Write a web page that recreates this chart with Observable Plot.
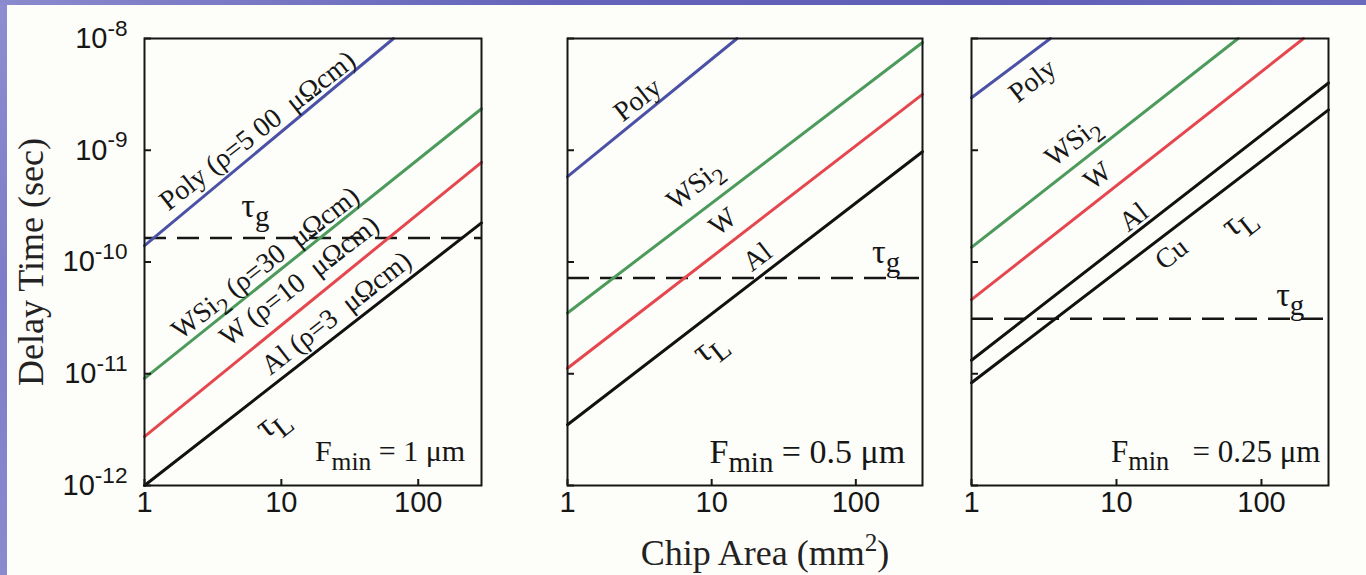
<!DOCTYPE html>
<html>
<head>
<meta charset="utf-8">
<script src="https://cdn.jsdelivr.net/npm/d3@7"></script>
<script src="https://cdn.jsdelivr.net/npm/@observablehq/plot@0.6"></script>
<style>
  html, body { margin: 0; padding: 0; background: #fdfdf9; }
  #page { position: relative; width: 1366px; height: 575px; overflow: hidden; background: #fdfdf9; }
  #edgeL { position: absolute; left: 0; top: 0; width: 7px; height: 575px; background: linear-gradient(180deg, #8d8dd2, #7c7cc8 50%, #8a8ad0); }
  #edgeT { position: absolute; left: 0; top: 0; width: 1366px; height: 5px; background: linear-gradient(90deg, #8a8ace, #6464ba 40%, #5f5fb6 70%, #6a6abe); }
  .panel { position: absolute; top: 0; }
  .title { position: absolute; font-family: 'Liberation Serif', 'Times New Roman', serif; font-size: 36px; color: #222; line-height: 1; white-space: nowrap; }
  .title sup { font-size: 70%; vertical-align: 0.55em; line-height: 0; }
</style>
</head>
<body>
<div id="page">
  <div id="edgeL"></div>
  <div id="edgeT"></div>
  <div id="p1" class="panel" style="left:0px"></div>
  <div id="p2" class="panel" style="left:500px"></div>
  <div id="p3" class="panel" style="left:940px"></div>
  <div class="title" style="left:31px; top:262px; transform: translate(-50%, -50%) rotate(-90deg);">Delay Time (sec)</div>
  <div class="title" style="left:765px; top:535px; transform: translateX(-50%);">Chip Area (mm<sup>2</sup>)</div>
</div>
<script>
// ---- axes ----
const areaDomain = [1, 290];
const delayDomain = [1e-12, 1e-8];
const areaTicks = [1, 10, 100];
const delayTicks = [1e-12, 1e-11, 1e-10, 1e-9, 1e-8];

// ---- materials ----
const materials = ["Poly", "WSi2", "W", "Al", "Cu"];
const materialColors = ["#4b52a6", "#4c9a5c", "#e5474f", "#111111", "#111111"];

// ---- interconnect delay τL: [material, chip area (mm²), delay (s)] ----
const delay1um = [
  ["Poly", 1, 1.4e-10], ["Poly", 66, 1e-8],
  ["WSi2", 1, 9.1e-12], ["WSi2", 290, 2.35e-9],
  ["W", 1, 2.74e-12], ["W", 290, 7.8e-10],
  ["Al", 1, 1.0e-12], ["Al", 290, 2.24e-10]
];
const delay05um = [
  ["Poly", 1, 5.8e-10], ["Poly", 15, 1e-8],
  ["WSi2", 1, 3.5e-11], ["WSi2", 290, 9.2e-9],
  ["W", 1, 1.12e-11], ["W", 290, 3.16e-9],
  ["Al", 1, 3.5e-12], ["Al", 290, 9.7e-10]
];
const delay025um = [
  ["Poly", 1, 2.95e-9], ["Poly", 3.5, 1e-8],
  ["WSi2", 1, 1.35e-10], ["WSi2", 69, 1e-8],
  ["W", 1, 4.6e-11], ["W", 195, 1e-8],
  ["Al", 1, 1.32e-11], ["Al", 290, 4.0e-9],
  ["Cu", 1, 8.3e-12], ["Cu", 290, 2.3e-9]
];

// ---- gate delay τg per feature size (s) ----
const gateDelay = [1.64e-10, 7.2e-11, 3.1e-11];

// ---- panel notes ----
const featureNotes = ["F_{min} = 1 μm", "F_{min} = 0.5 μm", "F_{min}\u00a0\u00a0\u00a0= 0.25 μm"];
const noteAnchors = [[220, 2.0e-12], [220, 2.0e-12], [255, 2.0e-12]];

// ---- in-plot labels: [text, area, delay, rotate] ----
const labels1um = [
  ["Poly (ρ=5 00  μΩcm)", 6.68, 1.5e-9, -38],
  ["WSi_{2} (ρ=30  μΩcm)", 7.64, 9.8e-11, -38],
  ["W (ρ=10  μΩcm)", 13.5, 6.76e-11, -38],
  ["Al (ρ=3  μΩcm)", 25.2, 3.49e-11, -38],
  ["τ_{L}", 8.45, 3.75e-12, -38],
  ["τ_{g}", 6.46, 3.18e-10, 0]
];
const labels05um = [
  ["Poly", 3.06, 2.84e-9, -38],
  ["WSi_{2}", 7.59, 4.9e-10, -38],
  ["W", 11.9, 2.29e-10, -38],
  ["Al", 20.7, 1.11e-10, -38],
  ["τ_{L}", 9.49, 1.77e-11, -38],
  ["τ_{g}", 162, 1.23e-10, 0]
];
const labels025um = [
  ["Poly", 2.63, 4.2e-9, -38],
  ["WSi_{2}", 4.97, 1.19e-9, -38],
  ["W", 7.39, 5.9e-10, -38],
  ["Al", 13.1, 2.53e-10, -38],
  ["Cu", 23.9, 1.18e-10, -38],
  ["τ_{L}", 68.3, 2.38e-10, -38],
  ["τ_{g}", 158, 5.06e-11, 0]
];

const serif = "'Liberation Serif', 'Times New Roman', serif";
const sans = "'Liberation Sans', Arial, Helvetica, sans-serif";
const ink = "#161616";

function toRows(arr) { return arr.map(([material, area, delay]) => ({material, area, delay})); }
function toLabels(arr) { return arr.map(([text, area, delay, rotate]) => ({text, area, delay, rotate})); }

function panel({series, gate, labels, note, noteAt, noteSize, width, marginLeft, marginRight, showYLabels}) {
  return Plot.plot({
    width, height: 575,
    marginTop: 38, marginBottom: 90, marginLeft, marginRight,
    style: {background: "transparent", overflow: "visible", maxWidth: "none", color: ink},
    x: {type: "log", domain: areaDomain},
    y: {type: "log", domain: delayDomain},
    color: {domain: materials, range: materialColors},
    marks: [
      Plot.ruleY([gate], {stroke: ink, strokeWidth: 2.5, strokeDasharray: "22,11"}),
      Plot.line(toRows(series), {x: "area", y: "delay", z: "material", stroke: "material", strokeWidth: 3}),
      Plot.text(toLabels(labels), {x: "area", y: "delay", text: "text", rotate: "rotate",
        fontSize: d => d.text.startsWith("τ") ? 34 : 28, fontFamily: serif, fill: ink}),
      Plot.text([{text: note, area: noteAt[0], delay: noteAt[1]}], {x: "area", y: "delay", text: "text",
        textAnchor: "end", fontSize: noteSize, fontFamily: serif, fill: ink}),
      Plot.axisX(areaTicks, {anchor: "bottom", tickSize: 6, dy: -6, tickPadding: 6, strokeWidth: 2,
        fontSize: 29, fontFamily: sans, fill: ink, label: null, tickFormat: d => String(d)}),
      Plot.axisY(delayTicks, {anchor: "left", tickSize: 7, dx: 7, tickPadding: 17, strokeWidth: 2,
        fontSize: 29, fontFamily: sans, fill: ink, label: null,
        tickFormat: showYLabels ? (d => `10^{${Math.round(Math.log10(d))}}`) : (() => "")}),
      Plot.frame({stroke: ink, strokeWidth: 2})
    ]
  });
}

// Turn "_{...}" / "^{...}" markers into sub/superscript tspans (real text)
function richText(svg) {
  d3.select(svg).selectAll("text").each(function () {
    const t = this.textContent;
    if (!/[_^]\{/.test(t)) return;
    const fs = parseFloat(getComputedStyle(this).fontSize) || 16;
    const parts = t.split(/([_^]\{[^}]*\})/).filter(p => p !== "");
    this.textContent = "";
    let pending = 0;
    for (const p of parts) {
      const m = p.match(/^([_^])\{([^}]*)\}$/);
      const ts = d3.select(this).append("tspan");
      if (m) {
        const sub = m[1] === "_";
        const shift = sub ? 0.28 * fs : -0.42 * fs;
        ts.attr("dy", shift + pending).attr("font-size", (sub ? 0.85 : 0.78) * fs).text(m[2]);
        pending = -shift;
      } else {
        if (pending) ts.attr("dy", pending);
        pending = 0;
        ts.text(p);
      }
    }
  });
}

const specs = [
  {id: "p1", series: delay1um, gate: gateDelay[0], labels: labels1um, note: featureNotes[0], noteAt: noteAnchors[0],
   noteSize: 30, width: 500, marginLeft: 144, marginRight: 19, showYLabels: true},
  {id: "p2", series: delay05um, gate: gateDelay[1], labels: labels05um, note: featureNotes[1], noteAt: noteAnchors[1],
   noteSize: 34, width: 440, marginLeft: 67, marginRight: 18, showYLabels: false},
  {id: "p3", series: delay025um, gate: gateDelay[2], labels: labels025um, note: featureNotes[2], noteAt: noteAnchors[2],
   noteSize: 31, width: 426, marginLeft: 31, marginRight: 38, showYLabels: false}
];
for (const s of specs) {
  const svg = panel(s);
  document.getElementById(s.id).appendChild(svg);
  richText(svg);
}
</script>
</body>
</html>
